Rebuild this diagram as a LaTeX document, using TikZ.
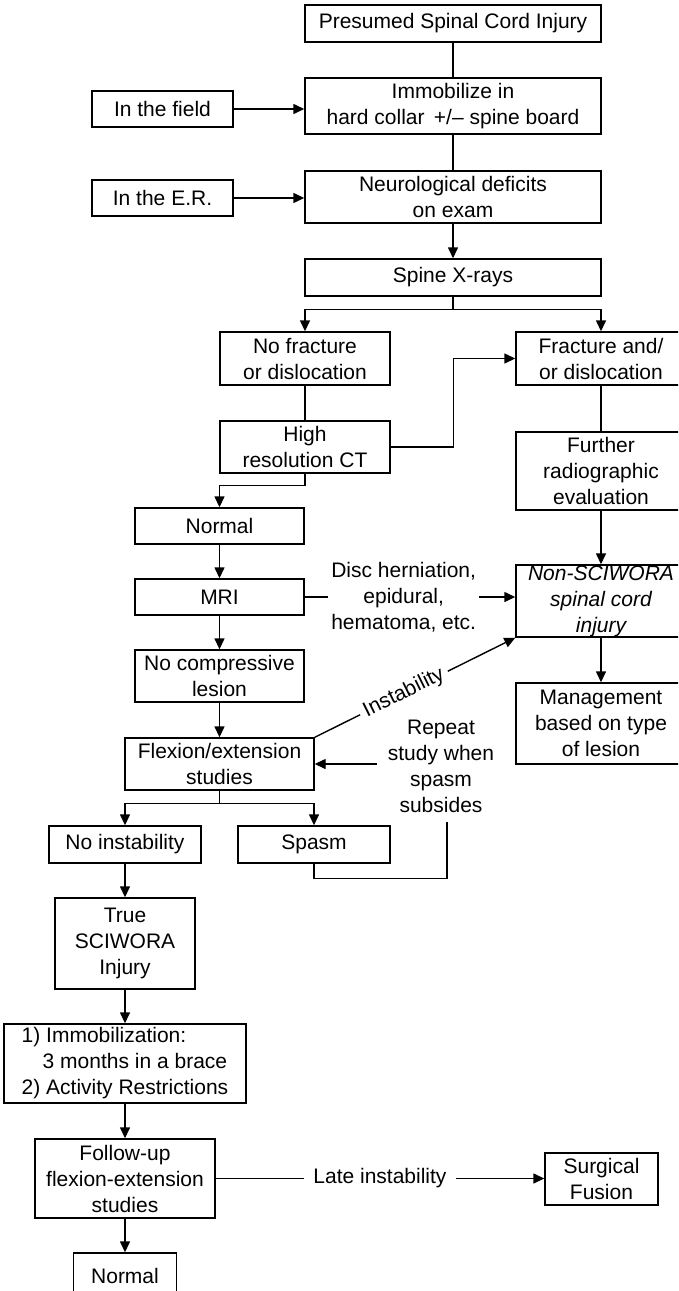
\documentclass[tikz,border=0pt]{standalone}
\usepackage{fontspec}
\setmainfont{Liberation Sans}
\usetikzlibrary{arrows.meta}
\begin{document}
\begin{tikzpicture}[x=1pt,y=-1pt,
  box/.style={draw, line width=1.4pt, rectangle, align=center, inner sep=0pt, font=\fontsize{21}{26}\selectfont},
  sz/.style 2 args={minimum width=#1pt, minimum height=#2pt},
  lbl/.style={align=center, font=\fontsize{21}{26}\selectfont, inner sep=0pt},
  arr/.style={line width=1.4pt, -{Triangle[length=11pt,width=10pt]}},
  ln/.style={line width=1.4pt}]
\useasboundingbox (0,0) rectangle (678,1291);
\clip (0,0) rectangle (678,1291);
% nodes
\node[box, sz={296}{37}] (top) at (453,23.5) {Presumed Spinal Cord Injury};
\node[box, sz={141}{36}] (field) at (162.5,109) {In the field};
\node[box, sz={296}{56}] (immob) at (453,106) {Immobilize in\\hard collar \,+/\textendash{} spine board};
\node[box, sz={141}{36}] (er) at (162.5,198) {In the E.R.};
\node[box, sz={296}{52}] (neuro) at (453,197) {Neurological deficits\\on exam};
\node[box, sz={296}{37}] (xray) at (453,277.5) {Spine X-rays};
\node[box, sz={170}{53}] (nofrac) at (305,358.5) {No fracture\\or dislocation};
\node[box, sz={170}{53}] (frac) at (601,358.5) {Fracture and/\\or dislocation};
\node[box, sz={170}{52}] (ct) at (305,447) {High\\resolution CT};
\node[box, sz={170}{78}] (further) at (601,471) {Further\\radiographic\\evaluation};
\node[box, sz={169}{36}] (normal1) at (219.5,526) {Normal};
\node[box, sz={169}{36}] (mri) at (219.5,597) {MRI};
\node[box, sz={170}{72}] (nonsci) at (601,601) {\itshape Non-SCIWORA\\\itshape spinal cord\\\itshape injury};
\node[box, sz={169}{52}] (nocomp) at (219.5,676) {No compressive\\lesion};
\node[box, sz={170}{81}] (mgmt) at (601,723.5) {Management\\based on type\\of lesion};
\node[box, sz={189}{52}] (flex) at (219.5,764) {Flexion/extension\\studies};
\node[box, sz={152}{37}] (noinst) at (125,844.5) {No instability};
\node[box, sz={152}{37}] (spasm) at (314,844.5) {Spasm};
\node[box, sz={140}{91}] (true) at (125,943.5) {True\\SCIWORA\\Injury};
\node[box, sz={242}{79}, align=left] (immob2) at (125,1063.5) {1) Immobilization:\\\hspace*{21pt}3 months in a brace\\2) Activity Restrictions};
\node[box, sz={180}{79}] (follow) at (125,1178.5) {Follow-up\\flexion-extension\\studies};
\node[box, sz={113}{52}] (surg) at (601.5,1179) {Surgical\\Fusion};
\node[box, sz={103}{46}] (normal2) at (125,1276) {Normal};
\node[lbl, inner xsep=11pt, inner ysep=4pt] (repeat) at (441,766) {Repeat\\study when\\spasm\\subsides};
\coordinate (rp) at (447,822);
% connectors
\draw[ln] (top) -- (immob);
\draw[arr] (field.east) -- (field.east -| immob.west);
\draw[ln] (immob) -- (neuro);
\draw[arr] (er.east) -- (er.east -| neuro.west);
\draw[arr] (neuro) -- (xray);
\draw[ln] (xray.south) -- ++(0,13) coordinate (b1);
\draw[arr] (b1) -| (nofrac.north);
\draw[arr] (b1) -| (frac.north);
\draw[ln] (nofrac) -- (ct);
\draw[arr] (ct.east) -- ++(63,0) |- (frac.west);
\draw[arr] (ct.south) -- ++(0,12) -| (normal1.north);
\draw[ln] (frac) -- (further);
\draw[arr] (further) -- (nonsci);
\draw[arr] (nonsci) -- (mgmt);
\draw[arr] (normal1) -- (mri);
\draw[arr] (mri) -- (nocomp);
\draw[arr] (nocomp) -- (flex);
\draw[arr] (mri.east) -- node[lbl, fill=white, inner xsep=3pt, pos=0.47] (disc) {Disc herniation,\\epidural,\\hematoma, etc.} (mri.east -| nonsci.west);
\draw[arr] (flex.north east) -- node[lbl, fill=white, sloped, inner sep=5pt, pos=0.445] (inst) {Instability} (nonsci.south west);
\draw[arr] (repeat.west |- flex.east) -- (flex.east);
\draw[ln] (spasm.south) -- ++(0,15) -| (rp);
\draw[ln] (flex.south) -- ++(0,13) coordinate (b2);
\draw[arr] (b2) -| (noinst.north);
\draw[arr] (b2) -| (spasm.north);
\draw[arr] (noinst) -- (true);
\draw[arr] (true) -- (immob2);
\draw[arr] (immob2) -- (follow);
\draw[arr] (follow.east) -- node[lbl, fill=white, inner xsep=9pt, pos=0.5] (late) {Late instability} (follow.east -| surg.west);
\draw[arr] (follow) -- (normal2);
\end{tikzpicture}
\end{document}
